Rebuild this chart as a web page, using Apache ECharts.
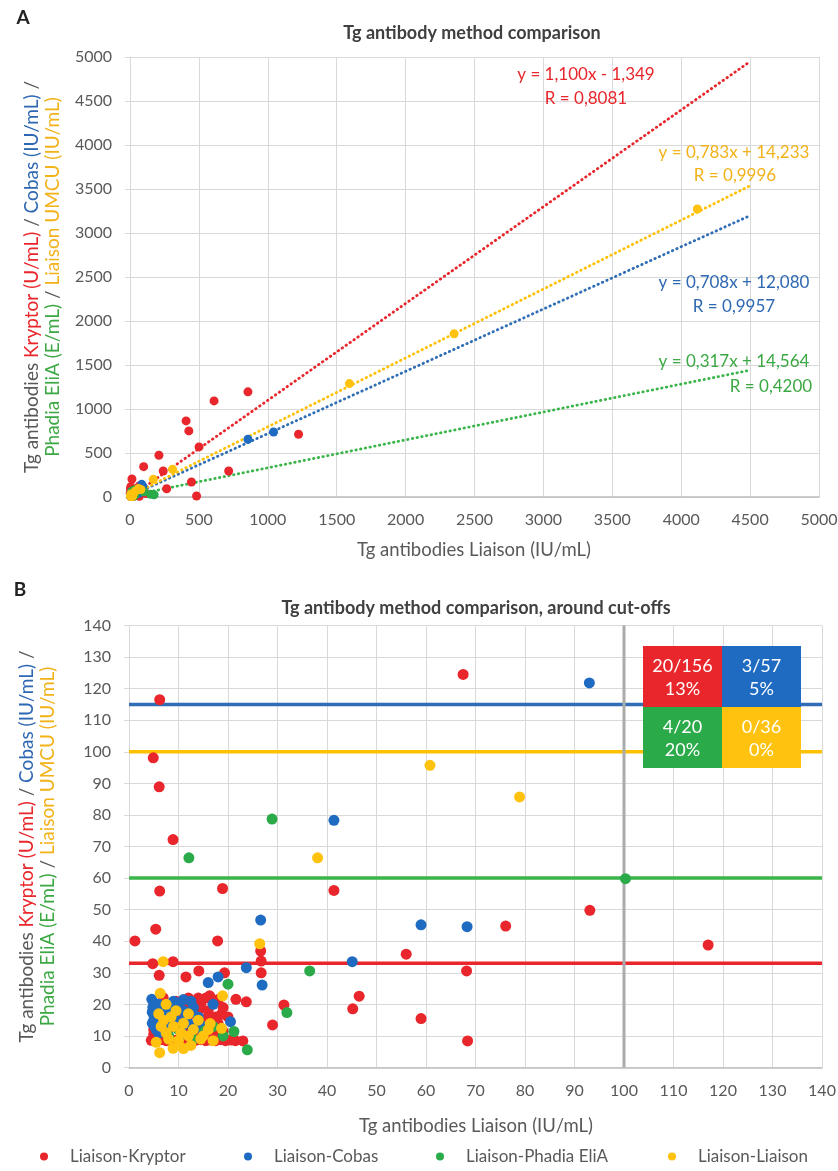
<!DOCTYPE html>
<html><head><meta charset="utf-8">
<script src="https://cdn.jsdelivr.net/npm/echarts/dist/echarts.min.js"></script>
<style>html,body{margin:0;padding:0;background:#fff}#c{width:838px;height:1171px}</style>
</head><body><div id="c"></div>
<script>
// ---------------- DATA ----------------
const seriesNames = ['Liaison-Kryptor', 'Liaison-Cobas', 'Liaison-Phadia EliA', 'Liaison-Liaison'];

// [Liaison (IU/mL), comparison method]
const liaisonKryptor = [
  [856,1195],[610,1092],[407,865],[427,751],[501,569],[210,474],[99,345],[241,296],[716,296],[1223,713],
  [446,171],[483,12],[266,94],[14,205],
  [6.2,116.5],[4.9,98.1],[6.1,88.9],[8.9,72.2],[67.5,124.5],[93.1,49.8],[76.1,44.8],[56.0,35.9],[68.2,30.6],
  [117.0,38.8],[41.4,56.1],[46.5,22.6],[45.2,18.6],[59.0,15.5],[68.4,8.4],[31.3,19.8],[6.2,55.9],[18.9,56.7],
  [5.4,43.8],[1.2,40.1],[17.9,40.1],[26.6,36.9],[26.7,33.7],[4.8,32.9],[8.9,33.5],[26.7,30.0],[14.1,30.6],
  [6.1,29.2],[11.5,28.7],[19.3,30.0],[21.6,21.6],[23.7,20.8],[16.3,22.7],[6.9,22.1],[29.0,13.5],[18.7,16.9],
  [23.0,8.4],
  [4.5,8.6],[5.5,9.0],[6.5,8.8],[7.5,8.5],[8.5,9.0],[9.5,8.6],[10.5,8.8],[11.5,8.5],[12.5,9.0],[13.5,8.6],
  [14.5,8.8],[15.5,8.5],[16.5,8.7],[17.5,8.5],[18.5,8.8],[19.5,8.5],[20.5,8.7],[21.5,8.5],
  [5.0,10.5],[6.0,11.0],[5.0,12.0],
  [11,14],[12,16.5],[12.5,19],[13,21],[13.5,17],[14,13.5],[14.5,20],[15,15],[15.5,22],[16,18],[16.5,13],
  [17,20.5],[17.5,16],[18,21.5],[13,11],[15,11.5],[17,11],[19,11.5],[12,12.5],[18,14],[11,20],[14,18],
  [16,16],[10,19],[9.5,21],[14,22],[19,19],[20,16],[12,22],[10.5,15]
];
const liaisonCobas = [
  [856,656],[1042,739],[85,144],
  [93.0,121.8],[41.4,78.3],[59.0,45.2],[68.3,44.6],[45.1,33.5],[26.6,46.7],[23.7,31.6],[18.0,28.7],[16.0,26.9],
  [26.9,26.1],[4.6,21.6],[20.5,14.5],
  [4.8,19],[5,17],[5,15],[5.2,13],[5.5,12],[6,20],[6.5,18],[7,16],[7.5,14],[8,19],[8.5,13],[9,17],[9.5,15],
  [10,20],[10.5,12],[11,18],[11.5,16],[12,14],[12.5,21],[13,19],[14,16],[10.8,10.5],[6,11],[8,12],[13.5,12.5],
  [15,13],[17,20],[4.7,14],[4.7,17.5],[9,21],[11,21.5]
];
const liaisonPhadia = [
  [150,30],[175,25],
  [12.1,66.4],[28.9,78.7],[100.3,59.8],[36.5,30.6],[31.9,17.4],[20.0,26.4],[21.2,11.4],[23.9,5.6],[15.3,11.6],
  [13,9],[10,12],[17,13],[8,10],[19,10]
];
const liaisonLiaison = [
  [1592,1289],[2352,1854],[4117,3273],[309,315],[169,201],
  [38.1,66.4],[60.8,95.7],[78.9,85.7],[26.4,39.2],[6.9,33.5],[6.3,23.5],[18.9,22.7],[18.7,12.4],[16.4,13.9],
  [6.2,4.7],[8.9,6.1],[11,6],[12.5,7],
  [6,17],[7,15],[7.5,11],[8,9],[9,13],[10,8.5],[10.5,11],[11,14],[12,10],[13,12],[14,15],[14.5,9],[9.5,18],
  [5.5,8],[6.5,13],[7.5,20],[16,12],[17,8.5],[15,10],[8.5,16],[12,17]
];

// regression lines (panel A): slope, intercept, R
const trendSlopes = [1.100, 0.708, 0.317, 0.783];
const trendIntercepts = [-1.349, 12.080, 14.564, 14.233];
const trendLabels = ['y = 1,100x - 1,349', 'y = 0,708x + 12,080', 'y = 0,317x + 14,564', 'y = 0,783x + 14,233'];
const trendR = ['R = 0,8081', 'R = 0,9957', 'R = 0,4200', 'R = 0,9996'];
const trendXRange = [0, 4500];

// cut-offs (panel B)
const cutoffsY = [33, 115, 60, 100];   // Kryptor, Cobas, Phadia, Liaison UMCU
const cutoffLiaisonX = 100;

// summary box
const boxFractions = ['20/156', '3/57', '4/20', '0/36'];
const boxPercents = ['13%', '5%', '20%', '0%'];

// ---------------- STYLE ----------------
const F = 'Lato';
const COL = ['#E8262B', '#1F6BC1', '#2BAA49', '#FFC20E'];
const TXT = ['#E8262B', '#2E68B2', '#3BA843', '#F2B21A'];
const LINECOL = ['#E8262B', '#2F6DB5', '#3AB54A', '#FFC000'];
const GRAY = '#595959';
const datasets = [liaisonKryptor, liaisonCobas, liaisonPhadia, liaisonLiaison];

const YF = 19;
const rs = c => ({ color: c, fontFamily: F, fontSize: YF, lineHeight: 21 });
const yName = '{g|Tg antibodies }{k|Kryptor (U/mL)}{g| / }{c|Cobas (IU/mL)}{g| /}\n{p|Phadia EliA (E/mL)}{g| / }{l|Liaison UMCU (IU/mL)}';
const yNameStyle = { fontFamily: F, fontSize: YF, lineHeight: 21, color: GRAY,
  rich: { g: rs(GRAY), k: rs(TXT[0]), c: rs(TXT[1]), p: rs(TXT[2]), l: rs(TXT[3]) } };

const gridLine = { show: true, lineStyle: { color: '#D9D9D9', width: 1 } };
const lab = { fontFamily: F, fontSize: 16, color: GRAY, formatter: v => String(v) };

function xAx(gi, max, interval) {
  return { gridIndex: gi, type: 'value', min: 0, max: max, interval: interval,
    axisLine: { show: true, onZero: false, lineStyle: { color: '#BFBFBF', width: 1.5 } },
    axisTick: { show: false }, splitLine: gridLine,
    axisLabel: Object.assign({ margin: 15, showMinLabel: true, showMaxLabel: true }, lab) };
}
function yAx(gi, max, interval, gap) {
  return { gridIndex: gi, type: 'value', min: 0, max: max, interval: interval,
    axisLine: { show: true, onZero: false, lineStyle: { color: '#D9D9D9' } },
    axisTick: { show: true, length: 5, lineStyle: { color: '#D9D9D9' } }, splitLine: gridLine,
    axisLabel: Object.assign({ margin: 18, showMinLabel: true, showMaxLabel: true }, lab),
    name: yName, nameLocation: 'middle', nameRotate: 90, nameGap: gap, nameMoveOverlap: false,
    nameTextStyle: yNameStyle };
}

const series = [];
// threshold lines (panel B)
cutoffsY.forEach((v, i) => {
  series.push({ type: 'line', xAxisIndex: 1, yAxisIndex: 1, data: [[0, v], [140, v]], showSymbol: false,
    symbol: 'none', silent: true, z: 2, lineStyle: { color: LINECOL[i], width: 3.5 } });
});
series.push({ type: 'line', xAxisIndex: 1, yAxisIndex: 1, data: [[cutoffLiaisonX, 0], [cutoffLiaisonX, 140]],
  symbol: 'none', silent: true, z: 2, lineStyle: { color: '#ABABAB', width: 3 } });
// trend lines (panel A)
trendSlopes.forEach((m, i) => {
  series.push({ type: 'line', xAxisIndex: 0, yAxisIndex: 0, symbol: 'none', silent: true, z: 2,
    data: trendXRange.map(x => [x, m * x + trendIntercepts[i]]),
    lineStyle: { color: LINECOL[i], width: 2.8, type: [0.5, 4.3], cap: 'round' } });
});
// scatter
[0, 1, 2, 3].forEach(i => {
  [0, 1].forEach(g => {
    series.push({ type: 'scatter', name: seriesNames[i], xAxisIndex: g, yAxisIndex: g, data: datasets[i],
      symbol: 'circle', symbolSize: g === 0 ? 9 : 11, clip: true, z: 3,
      itemStyle: { color: COL[i], opacity: 1 }, emphasis: { disabled: true } });
  });
});

const graphics = [];
function txt(x, y, t, opt) {
  graphics.push({ type: 'text', x: x, y: y, z: 100, silent: true,
    style: Object.assign({ text: t, align: 'center', verticalAlign: 'middle', fontFamily: F, fontSize: 17, fill: GRAY }, opt || {}) });
}
txt(23, 18, 'A', { fontSize: 19, fontWeight: 'bold', fill: '#222' });
txt(20, 590, 'B', { fontSize: 19, fontWeight: 'bold', fill: '#222' });
txt(472, 33, 'Tg antibody method comparison', { fontSize: 18, fontWeight: 'bold', fill: '#404040' });
txt(476, 608, 'Tg antibody method comparison, around cut-offs', { fontSize: 18, fontWeight: 'bold', fill: '#404040' });
txt(474, 550, 'Tg antibodies Liaison (IU/mL)', { fontSize: 18.5 });
txt(476, 1126, 'Tg antibodies Liaison (IU/mL)', { fontSize: 18.5 });
// trend labels
const tPos = [[586, 75, 586, 99], [734, 283, 734, 307], [734, 362, 771, 387], [734, 153, 735, 176]];
tPos.forEach((p, i) => {
  txt(p[0], p[1], trendLabels[i], { fill: TXT[i] });
  txt(p[2], p[3], trendR[i], { fill: TXT[i] });
});
// summary box
const cells = [[643, 646], [722, 646], [643, 707], [722, 707]];
cells.forEach((c, i) => {
  graphics.push({ type: 'rect', z: 99, silent: true, shape: { x: c[0], y: c[1], width: 79, height: 61 }, style: { fill: COL[i] } });
  txt(c[0] + 39.5, c[1] + 20, boxFractions[i], { fill: '#fff', fontSize: 18 });
  txt(c[0] + 39.5, c[1] + 43, boxPercents[i], { fill: '#fff', fontSize: 18 });
});

const legendLefts = [35, 239, 431, 663];
const legends = seriesNames.map((n, i) => ({ data: [n], left: legendLefts[i], top: 1143, padding: 5,
  icon: 'circle', itemWidth: 8, itemHeight: 8, selectedMode: false,
  textStyle: { fontFamily: F, fontSize: 17, color: GRAY, padding: [0, 0, 0, 17] } }));

const chart = echarts.init(document.getElementById('c'), null, { renderer: 'canvas' });
chart.setOption({
  animation: false,
  backgroundColor: '#fff',
  color: COL,
  grid: [
    { left: 130, top: 57, width: 689, height: 440, containLabel: false, outerBoundsMode: 'none' },
    { left: 129, top: 625.5, width: 693, height: 442, containLabel: false, outerBoundsMode: 'none' }
  ],
  xAxis: [xAx(0, 5000, 500), xAx(1, 140, 10)],
  yAxis: [yAx(0, 5000, 500, 66.5), yAx(1, 140, 10, 71)],
  legend: legends,
  series: series,
  graphic: graphics
});
</script></body></html>
